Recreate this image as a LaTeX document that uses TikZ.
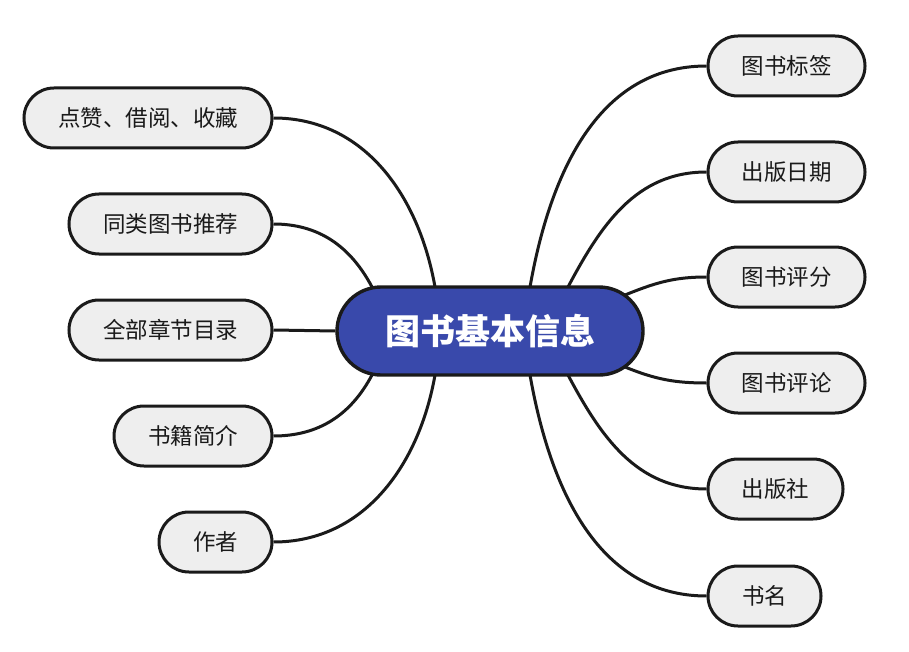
\documentclass[tikz,border=0pt]{standalone}
\usepackage{fontspec}
\newfontfamily\cjk{Noto Sans CJK SC}
\definecolor{hub}{HTML}{3949AB}
\definecolor{leaf}{HTML}{EEEEEE}
\definecolor{ink}{HTML}{1A1A1A}
\begin{document}
\begin{tikzpicture}[x=1pt,y=1pt,
  leafbox/.style={draw=ink,fill=leaf,line width=3pt,rounded corners=30pt,minimum height=60pt,inner sep=0pt,font=\cjk\fontsize{22.5}{26}\selectfont,text=ink},
  hubbox/.style={draw=ink,fill=hub,line width=3.4pt,rounded corners=44pt,minimum height=88pt,minimum width=306pt,inner sep=0pt,font=\cjk\bfseries\fontsize{35}{40}\selectfont,text=white},
  link/.style={draw=ink,line width=3pt}]
\useasboundingbox (0,0) rectangle (909,-652);
\node[hubbox] (c) at (490,-331) {图书基本信息};
% right
\node[leafbox,minimum width=157pt] (r1) at (786.5,-66) {图书标签};
\node[leafbox,minimum width=157pt] (r2) at (786.5,-172) {出版日期};
\node[leafbox,minimum width=157pt] (r3) at (786.5,-277) {图书评分};
\node[leafbox,minimum width=157pt] (r4) at (786.5,-383) {图书评论};
\node[leafbox,minimum width=135pt] (r5) at (775.5,-489) {出版社};
\node[leafbox,minimum width=113pt] (r6) at (764.5,-596) {书名};
% left
\node[leafbox,minimum width=248pt] (l1) at (148,-118) {点赞、借阅、收藏};
\node[leafbox,minimum width=203pt] (l2) at (170.5,-224) {同类图书推荐};
\node[leafbox,minimum width=203pt] (l3) at (170.5,-330) {全部章节目录};
\node[leafbox,minimum width=158pt] (l4) at (193,-436) {书籍简介};
\node[leafbox,minimum width=113pt] (l5) at (215.5,-542) {作者};
% connectors
\draw[link] ([shift={(40,44)}]c.center) to[out=80,in=180] (r1.west);
\draw[link] ([shift={(78,44)}]c.center) to[out=62,in=180] (r2.west);
\draw[link] ([shift={(135,36)}]c.center) to[out=22,in=180] (r3.west);
\draw[link] ([shift={(135,-36)}]c.center) to[out=-22,in=180] (r4.west);
\draw[link] ([shift={(78,-44)}]c.center) to[out=-62,in=180] (r5.west);
\draw[link] ([shift={(40,-44)}]c.center) to[out=-80,in=180] (r6.west);
\draw[link] ([shift={(-55,44)}]c.center) to[out=100,in=0] (l1.east);
\draw[link] ([shift={(-118,44)}]c.center) to[out=118,in=0] (l2.east);
\draw[link] (c.west) -- (l3.east);
\draw[link] ([shift={(-118,-44)}]c.center) to[out=-118,in=0] (l4.east);
\draw[link] ([shift={(-55,-44)}]c.center) to[out=-100,in=0] (l5.east);
\end{tikzpicture}
\end{document}
